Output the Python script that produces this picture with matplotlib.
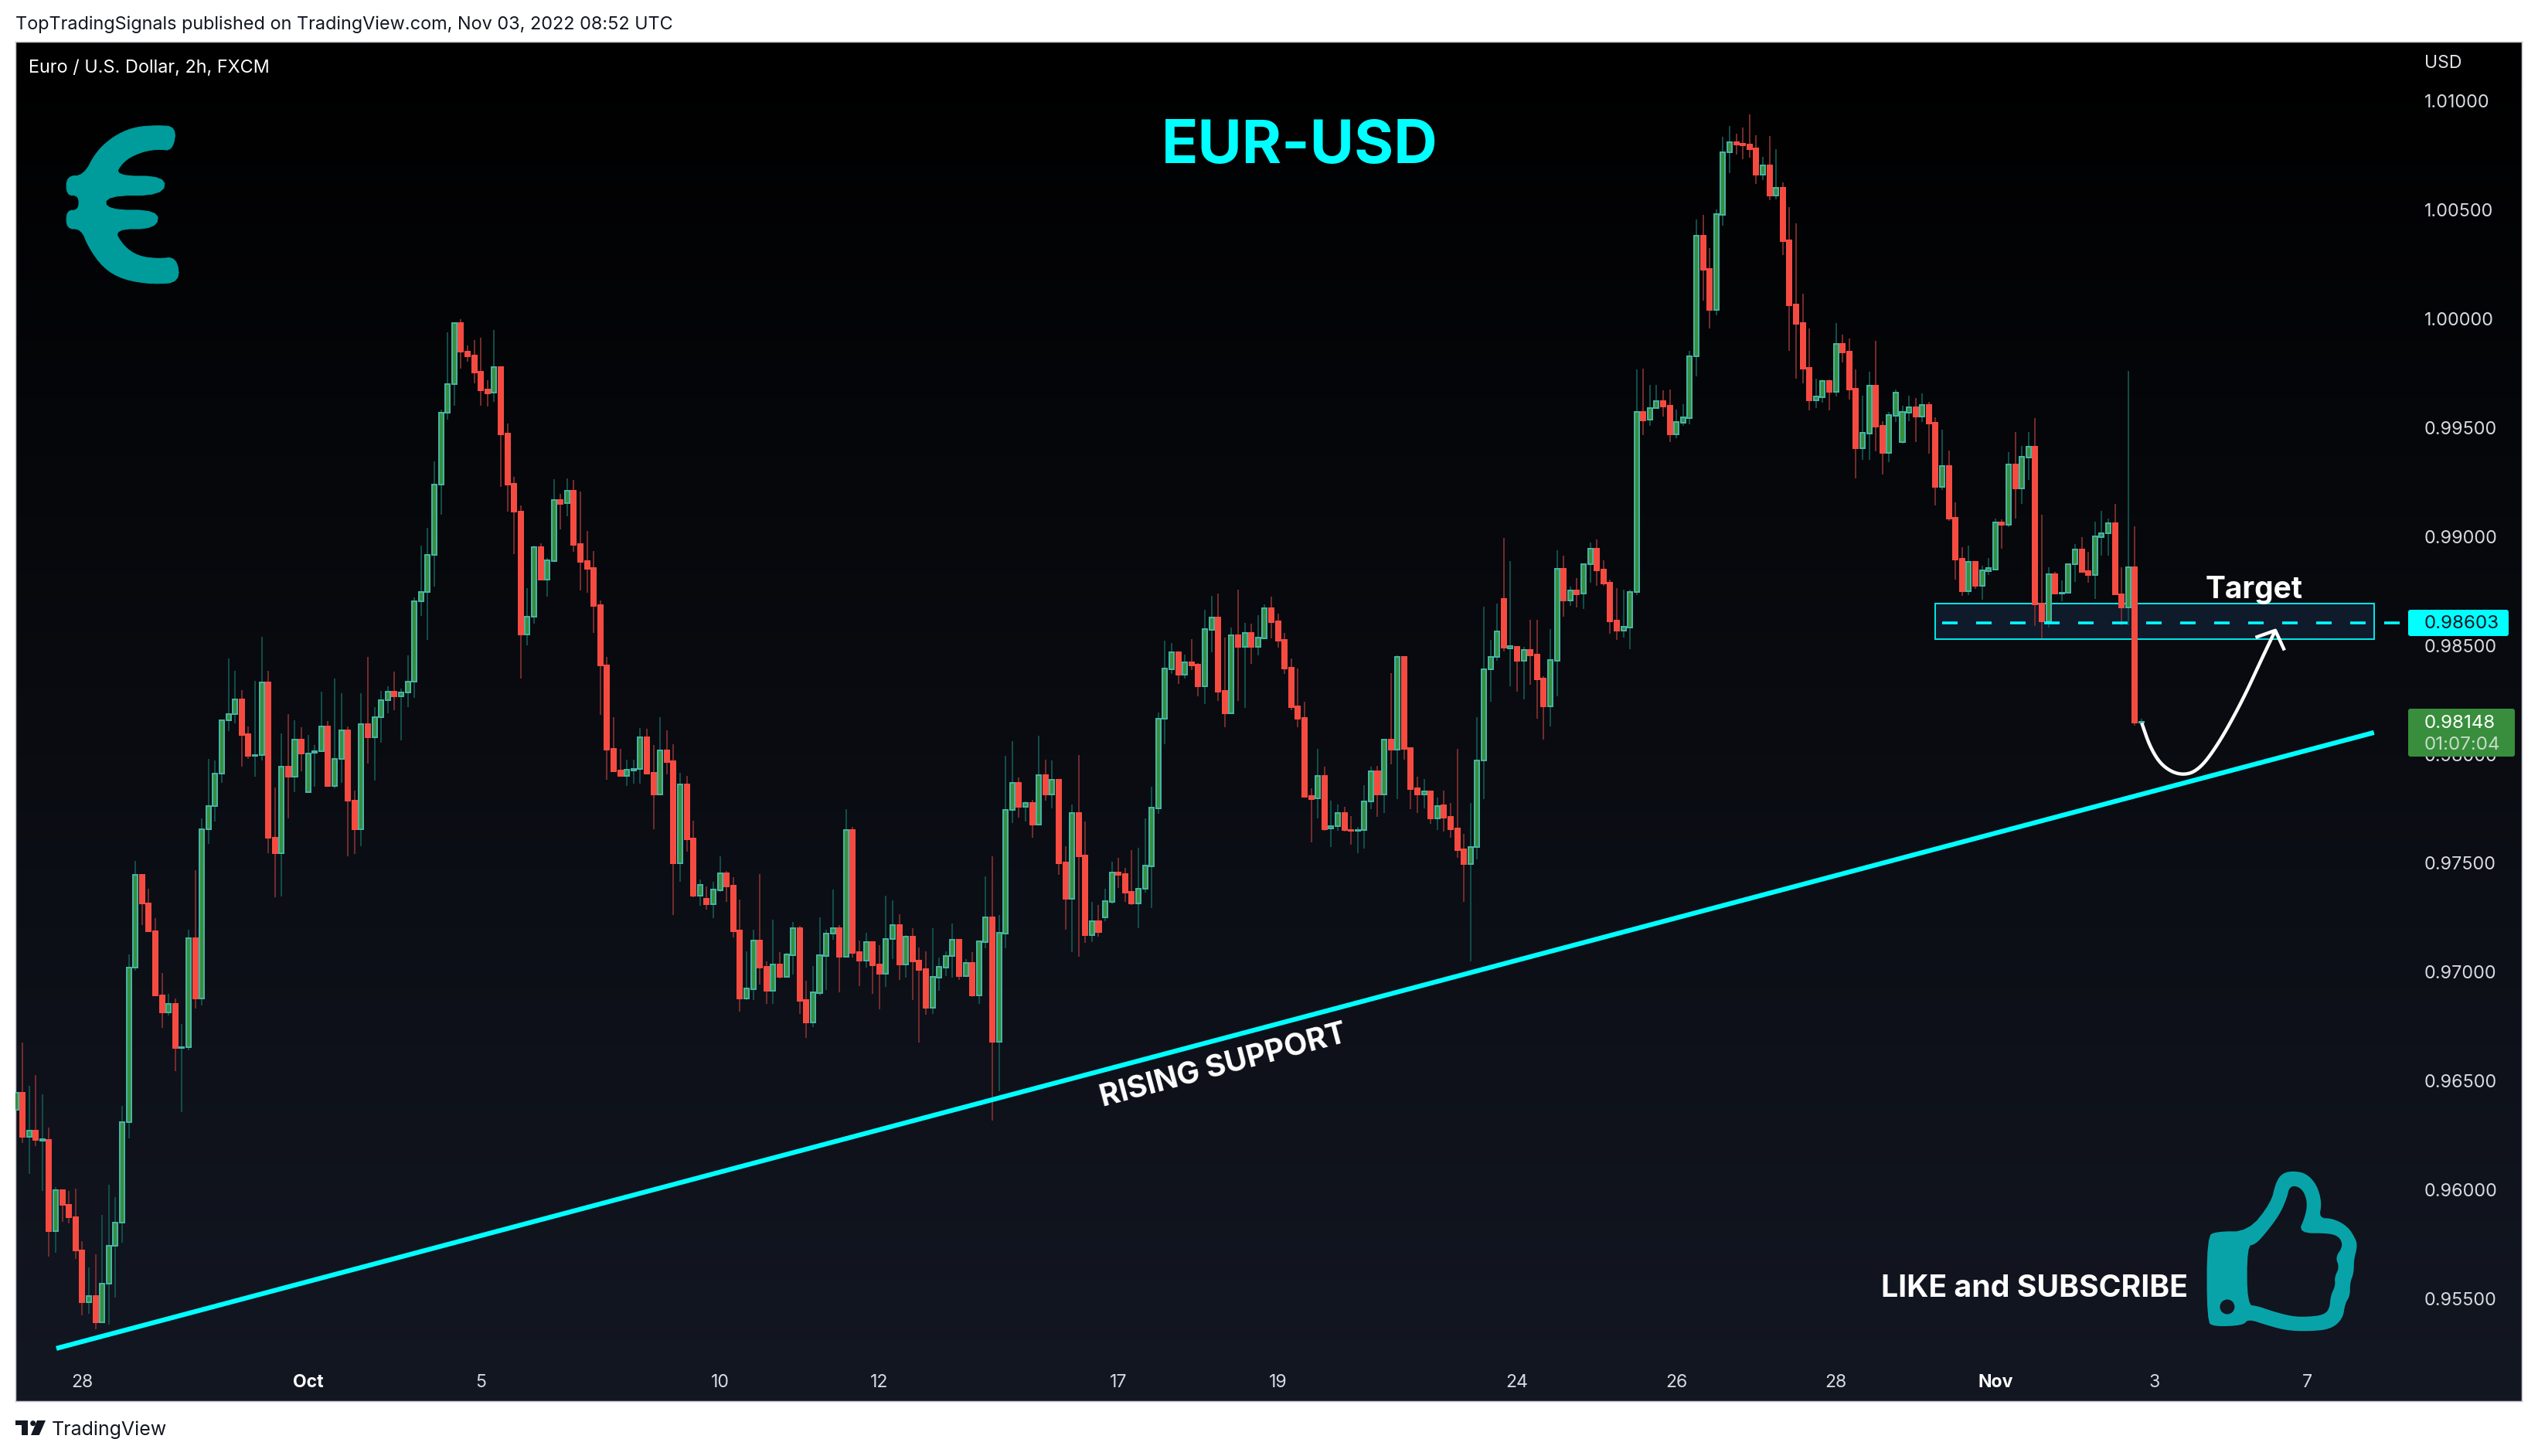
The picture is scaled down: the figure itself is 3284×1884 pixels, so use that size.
import numpy as np
import matplotlib
matplotlib.use("Agg")
import matplotlib.pyplot as plt
from matplotlib.colors import LinearSegmentedColormap
from matplotlib.patches import PathPatch, Rectangle, FancyBboxPatch, Ellipse, Circle
from matplotlib.path import Path
from matplotlib.transforms import Affine2D

plt.rcParams['font.family'] = ['Inter', 'Roboto', 'DejaVu Sans']

# prices in 1e-5 USD
opens = [
96369,96445,96243,96271,96225,96228,95809,95999,95932,95874,
95721,95485,95510,95391,95568,95742,95849,96311,97020,97447,
97316,97188,96891,96815,96855,96650,96656,97157,96879,97655,
97762,97912,98156,98184,98251,98092,97994,97997,98331,97615,
97545,97942,97897,98068,97826,98007,98013,98129,97854,97979,
98111,97787,97655,98138,98077,98172,98248,98288,98266,98285,
98334,98703,98746,98917,99238,99568,99700,99981,99849,99831,
99758,99675,99660,99779,99474,99244,99116,98551,98633,98952,
98803,98889,99167,99154,99210,98966,98887,98855,98685,98409,
98024,97927,97902,97927,97931,98078,97915,97816,98017,97967,
97499,97861,97614,97352,97336,97311,97377,97454,97397,97191,
96878,96921,97146,97023,96915,97035,96978,97078,97202,96872,
96768,96903,97073,97175,97202,97071,97653,97091,97053,97137,
97035,96992,97150,97216,97035,97161,97053,97014,96837,96975,
97022,97072,97148,96981,97042,96892,97138,97251,96681,97178,
97743,97869,97759,97777,97678,97905,97814,97883,97504,97338,
97731,97535,97171,97234,97252,97323,97458,97449,97368,97315,
97384,97486,97752,98164,98392,98469,98366,98423,98413,98313,
98572,98629,98292,98189,98547,98494,98558,98494,98533,98672,
98611,98526,98398,98221,98168,97808,97797,97900,97660,97669,
97729,97653,97647,97651,97782,97922,97814,98067,98023,98449,
98029,97844,97814,97831,97707,97766,97713,97660,97564,97496,
97573,97970,98390,98446,98714,98488,98494,98430,98480,98459,
98349,98221,98431,98852,98705,98753,98737,98872,98945,98849,
98789,98615,98569,98584,98744,99573,99537,99589,99624,99601,
99470,99524,99546,99827,100383,100231,100042,100479,100765,100812,
100806,100801,100784,100663,100706,100567,100603,100362,100067,99982,
99776,99627,99641,99716,99666,99885,99850,99679,99406,99475,
99693,99510,99386,99556,99435,99570,99595,99552,99605,99524,
99229,99324,99086,98899,98750,98885,98774,98842,98849,99066,
99053,99332,99223,99364,99413,98692,98609,98828,98737,98741,
98873,98940,98842,98825,98999,99016,99061,98735,98673,98860,98146]
highs = [
96708,96677,96476,96528,96439,96286,96014,95999,95993,96005,
95764,95644,95705,95886,96023,95965,96384,97081,97512,97447,
97383,97246,96995,96900,96879,96763,97194,97466,97707,97979,
97973,98156,98441,98383,98294,98129,98337,98541,98383,97848,
98095,98184,98156,98126,98089,98043,98288,98153,98349,98279,
98129,97832,98279,98447,98215,98291,98312,98380,98303,98456,
98722,98960,99040,99345,99584,99938,99981,100000,99877,99904,
99914,99718,99950,99779,99519,99275,99143,98765,98960,98970,
98903,99265,99197,99267,99260,99208,99027,98934,98708,98447,
98171,98024,97974,97974,98121,98117,98042,98171,98110,98047,
97915,97902,97696,97424,97392,97415,97531,97465,97435,97334,
97096,97195,97449,97048,97241,97091,97087,97229,97211,96960,
97028,97252,97195,97379,97216,97748,97666,97146,97180,97141,
97123,97352,97329,97266,97171,97202,97112,97096,97201,97066,
97094,97223,97148,97058,97091,97145,97439,97531,97262,97993,
98061,97894,97784,97790,98085,97975,97971,97883,97577,97770,
97997,97691,97322,97308,97383,97507,97526,97478,97559,97569,
97705,97852,98193,98523,98512,98469,98459,98530,98420,98665,
98728,98739,98537,98583,98757,98604,98601,98640,98689,98725,
98647,98558,98441,98395,98242,97843,98025,97944,97786,97770,
97760,97717,97667,97859,97944,97947,98072,98374,98455,98452,
98029,97898,97886,97833,97801,97833,97778,98025,97635,97778,
98170,98678,98525,98693,98995,98889,98494,98494,98618,98618,
98359,98575,98937,98914,98771,98811,98872,98974,98987,98892,
98803,98764,98756,98756,99768,99773,99698,99698,99673,99676,
99582,99609,99854,100457,100478,100326,100503,100838,100887,100852,
100880,100941,100844,100744,100841,100781,100628,100514,100440,100117,
99956,99727,99720,99722,99982,99928,99911,99768,99647,99758,
99899,99530,99573,99676,99601,99647,99638,99659,99619,99549,
99492,99395,99158,98952,98960,98885,98868,98903,99083,99080,
99389,99481,99418,99481,99544,99100,98860,98839,98798,98874,
98967,98998,98930,99068,99118,99082,99149,98860,99761,99048,98165]
lows = [
96362,96213,96072,96201,95993,95693,95712,95852,95846,95681,
95424,95430,95360,95388,95382,95504,95757,96237,97007,97215,
97188,96891,96745,96800,96546,96356,96641,96833,96848,97588,
97692,97869,98107,98141,97942,97979,97897,97970,97545,97343,
97346,97707,97826,97921,97826,97851,98013,97854,97845,97869,
97530,97542,97579,97958,97878,98052,98190,98202,98065,98218,
98260,98636,98526,98771,99101,99538,99602,99770,99804,99703,
99602,99599,99620,99229,99113,98920,98349,98499,98600,98803,
98724,98884,99034,99093,98930,98753,98742,98558,98180,97884,
97922,97900,97854,97866,97866,97913,97655,97816,97909,97261,
97415,97553,97343,97304,97286,97247,97368,97322,97159,96817,
96872,96872,96942,96853,96853,96971,96974,96989,96808,96697,
96747,96894,96917,97148,96908,97071,97066,96935,97021,96899,
96829,96933,97060,96965,96974,96872,96677,96804,96807,96914,
96981,96974,96963,96979,96887,96854,97108,96319,96452,97108,
97684,97709,97690,97617,97678,97788,97752,97448,97193,97091,
97070,97134,97138,97164,97235,97311,97387,97322,97308,97200,
97365,97295,97727,98047,98370,98324,98349,98388,98267,98231,
98469,98246,98125,98189,98246,98214,98416,98455,98533,98533,
98491,98370,98203,98125,97805,97595,97705,97650,97574,97650,
97645,97585,97547,97567,97748,97713,97730,97954,97795,97976,
97748,97730,97753,97680,97653,97645,97617,97524,97323,97049,
97519,97795,98243,98430,98472,98313,98288,98253,98321,98165,
98067,98128,98268,98633,98683,98675,98668,98789,98774,98774,
98555,98527,98537,98484,98731,99467,99510,99586,99552,99435,
99452,99510,99516,99736,100085,99956,100017,100429,100670,100755,
100735,100741,100620,100638,100546,100549,100294,99853,99727,99704,
99578,99590,99616,99581,99644,99801,99630,99269,99353,99353,
99391,99286,99343,99527,99427,99530,99435,99527,99381,99143,
99215,99072,98803,98728,98731,98760,98711,98825,98846,98945,
99045,99083,99151,99261,98590,98534,98584,98737,98703,98738,
98790,98839,98787,98713,98913,98913,98734,98593,98593,98130,98144]
closes = [
96445,96243,96271,96228,96234,95809,95999,95932,95874,95721,
95485,95510,95391,95568,95742,95849,96311,97020,97447,97316,
97188,96891,96815,96855,96650,96656,97157,96879,97655,97762,
97912,98156,98184,98251,98089,97994,97997,98331,97615,97545,
97942,97897,98068,98004,98004,98016,98129,97854,97979,98111,
97787,97655,98138,98077,98172,98248,98288,98266,98285,98334,
98703,98746,98917,99238,99568,99700,99981,99849,99828,99755,
99672,99657,99779,99470,99238,99113,98551,98633,98951,98803,
98891,99167,99152,99210,98961,98884,98853,98683,98407,98022,
97922,97902,97929,97934,98078,97913,97816,98017,97965,97499,
97861,97610,97352,97399,97311,97379,97454,97392,97186,96878,
96924,97146,97021,96915,97035,96978,97080,97202,96867,96768,
96908,97078,97177,97202,97071,97653,97087,97053,97137,97030,
96992,97152,97216,97035,97161,97048,97010,96835,96978,97023,
97073,97148,96981,97042,96892,97141,97251,96681,97179,97744,
97868,97759,97777,97678,97905,97814,97883,97500,97337,97731,
97531,97171,97234,97183,97326,97458,97447,97365,97315,97384,
97489,97754,98165,98395,98469,98366,98423,98409,98313,98576,
98629,98288,98189,98547,98494,98558,98494,98537,98672,98608,
98523,98395,98217,98164,97805,97796,97900,97657,97669,97729,
97651,97647,97653,97782,97922,97814,98066,98023,98447,98026,
97842,97814,97829,97705,97764,97710,97657,97560,97496,97573,
97970,98390,98447,98563,98490,98496,98430,98478,98455,98346,
98221,98432,98852,98705,98752,98736,98872,98943,98846,98786,
98612,98569,98586,98744,99573,99535,99590,99624,99598,99470,
99527,99549,99830,100383,100226,100042,100483,100766,100812,100801,
100798,100781,100663,100706,100567,100603,100357,100063,99979,99773,
99627,99644,99716,99666,99885,99847,99676,99406,99478,99693,
99506,99386,99559,99662,99573,99595,99552,99605,99521,99229,
99324,99083,98895,98750,98885,98774,98846,98855,99066,99053,
99332,99223,99367,99413,98690,98609,98828,98737,98741,98874,
98940,98839,98825,99000,99016,99061,98734,98673,98860,98147,98148]

time_ticks = [10, 44, 70, 106, 130, 166, 190, 226, 250, 274, 298, 322, 345]
time_labels = ['28', 'Oct', '5', '10', '12', '17', '19', '24', '26', '28', 'Nov', '3', '7']
bold_times = ['Oct', 'Nov']
price_ticks = [1.01, 1.005, 1.0, 0.995, 0.99, 0.985, 0.98, 0.975, 0.97, 0.965, 0.96, 0.955]
target_price = 0.98603
last_price = 0.98148
support_x = [6.1, 355.0]
support_y = [0.95271, 0.98100]
zone_x = [289.0, 355.0]
zone_y = [0.98529, 0.98693]

W, H = 3284, 1884
DPI = 200
fig = plt.figure(figsize=(W / DPI, H / DPI), dpi=DPI, facecolor='white')
L, R, T, B = 20, 3263, 54, 1813
ax = fig.add_axes([L / W, 1 - B / H, (R - L) / W, (B - T) / H])
XLIM = (-0.058, 377.25)
YLIM = (0.95029, 1.01273)
pix = Affine2D().scale(1, -1).translate(0, H)

# gradient background
cmap = LinearSegmentedColormap.from_list('bg', ['#000000', '#131722'])
ax.imshow(np.linspace(0, 1, 256).reshape(-1, 1), cmap=cmap, aspect='auto',
          extent=[XLIM[0], XLIM[1], YLIM[0], YLIM[1]], origin='upper', zorder=0)
ax.set_xlim(*XLIM)
ax.set_ylim(*YLIM)

x = np.arange(len(opens))
o = np.array(opens) / 1e5
h = np.array(highs) / 1e5
l = np.array(lows) / 1e5
c = np.array(closes) / 1e5
up = c >= o
PX = 1 / 2.7778  # points per pixel at 200 dpi

# target zone
ax.add_patch(Rectangle((zone_x[0], zone_y[0]), zone_x[1] - zone_x[0], zone_y[1] - zone_y[0],
                       facecolor='#0f1a2b', edgecolor='#00e5e5', lw=2 * PX, zorder=1))

ax.vlines(x[up], l[up], h[up], color='#124d48', lw=2 * PX, zorder=2)
ax.vlines(x[~up], l[~up], h[~up], color='#732b2d', lw=2 * PX, zorder=2)
ax.bar(x[up], (c - o)[up], bottom=o[up], width=0.70, color='#388e3c', edgecolor='#45b3a5', lw=2 * PX, zorder=3)
ax.bar(x[~up], (c - o)[~up], bottom=o[~up], width=0.70, color='#f64a40', edgecolor='#f44c42', lw=2 * PX, zorder=3)

# support line and target line
ax.plot(support_x, support_y, color='#00ffff', lw=6.2 * PX, solid_capstyle='butt', zorder=5)
ax.plot([290, 359], [target_price, target_price], color='#00ffff', lw=3.6 * PX,
        dashes=(20 / 3.6, 24 / 3.6), dash_capstyle='butt', zorder=4)

# axes
for s in ax.spines.values():
    s.set_color('#c4c6ce')
    s.set_linewidth(1.5 * PX)
ax.set_xticks(time_ticks)
ax.set_xticklabels(time_labels)
ax.yaxis.tick_right()
ax.set_yticks(price_ticks)
ax.set_yticklabels([f'{p:.5f}' for p in price_ticks])
ax.tick_params(axis='x', length=0, pad=-12.7, colors='#d8dae0', labelsize=8.3)
ax.tick_params(axis='y', length=0, pad=-126 * PX, colors='#d8dae0', labelsize=8.4)
for t in ax.get_xticklabels():
    if t.get_text() in bold_times:
        t.set_fontweight('bold')
        t.set_color('#ffffff')

# price labels
def box(x0, y0, x1, y1, color):
    fig.add_artist(FancyBboxPatch((x0 + 3, y0 + 3), x1 - x0 - 6, y1 - y0 - 6,
                                  boxstyle='round,pad=3,rounding_size=3', fc=color, ec='none', transform=pix, zorder=3))
box(3116, 789, 3246, 823, '#00ffff')
box(3116, 917, 3254, 979, '#388e3c')
ftxt = dict(transform=pix, ha='left', va='center', zorder=4, fontsize=8.7)
fig.text(3137, 807, f'{target_price:.5f}', color='#131722', **ftxt)
fig.text(3137, 936, f'{last_price:.5f}', color='#ffffff', **ftxt)
fig.text(3137, 964, '01:07:04', color='#c6dcc8', **ftxt)
fig.text(3137, 82, 'USD', transform=pix, ha='left', va='center', color='#e0e2e8', fontsize=8.3, zorder=4)

# annotations
ax.text(181.8, 0.96569, 'RISING SUPPORT', color='white', fontsize=14.1, fontweight='bold',
        rotation=14.9, rotation_mode='anchor', ha='center', va='center', zorder=6)
fig.text(1682, 190, 'EUR-USD', transform=pix, color='#00ffff', fontsize=28.2, fontweight='bold', ha='center', va='center', zorder=6)
fig.text(2917, 764, 'Target', transform=pix, color='white', fontsize=14, fontweight='bold', ha='center', va='center', zorder=6)
fig.text(2632, 1668, 'LIKE and SUBSCRIBE', transform=pix, color='white', fontsize=14.1, fontweight='bold', ha='center', va='center', zorder=6)
fig.text(20, 32, 'TopTradingSignals published on TradingView.com, Nov 03, 2022 08:52 UTC', transform=pix,
         color='#131722', fontsize=8.45, ha='left', va='center')
fig.text(37, 88, 'Euro / U.S. Dollar, 2h, FXCM', transform=pix, color='white', fontsize=8.45, ha='left', va='center', zorder=6)
fig.text(67, 1850, 'TradingView', transform=pix, color='#131722', fontsize=9.0, ha='left', va='center')

def chaikin(pts, n=2, closed=True):
    pts = np.asarray(pts, float)
    for _ in range(n):
        nxt = np.roll(pts, -1, axis=0) if closed else pts[1:]
        cur = pts if closed else pts[:-1]
        q = 0.75 * cur + 0.25 * nxt
        r = 0.25 * cur + 0.75 * nxt
        new = np.empty((len(q) * 2, 2))
        new[0::2] = q
        new[1::2] = r
        if not closed:
            new = np.vstack([pts[0], new, pts[-1]])
        pts = new
    return pts

def closed_path(pts):
    pts = np.vstack([pts, pts[0]])
    codes = [Path.MOVETO] + [Path.LINETO] * (len(pts) - 2) + [Path.CLOSEPOLY]
    return Path(pts, codes)

# curved arrow
arrow_z = [(568, 1228), (590, 1310), (620, 1370), (665, 1400), (710, 1385), (760, 1300), (820, 1160), (870, 1020), (905, 925)]
az = np.array(arrow_z, float)
az = np.c_[2480 + az[:, 0] / 1.95, 450 + az[:, 1] / 2.529]
fig.add_artist(PathPatch(Path(chaikin(az, 3, closed=False)), fc='none', ec='white', lw=4.4 * PX, transform=pix, zorder=6))
head = np.array([(855, 948), (905, 925), (928, 990)], float)
head = np.c_[2480 + head[:, 0] / 1.95, 450 + head[:, 1] / 2.529]
fig.add_artist(PathPatch(Path(head), fc='none', ec='white', lw=4.4 * PX, transform=pix, zorder=6, joinstyle='round'))

# euro icon
euro = [(358, 492), (315, 487), (270, 495), (230, 530), (195, 590), (170, 682), (135, 684), (135, 758), (160, 758),
        (160, 816), (135, 817), (135, 888), (165, 888), (180, 960), (210, 1040), (250, 1085), (310, 1103), (365, 1095),
        (358, 998), (320, 1005), (280, 995), (250, 955), (230, 888), (317, 888), (322, 816), (215, 816), (215, 758),
        (330, 758), (336, 684), (232, 684), (250, 625), (285, 590), (320, 578), (350, 585)]
eu = np.array(euro, float)
eu = np.c_[eu[:, 0] / 1.568, eu[:, 1] / 3]
fig.add_artist(PathPatch(closed_path(chaikin(eu, 2)), fc='#009c9c', ec='#009c9c', lw=1 * PX, transform=pix, zorder=6))

# thumb icon
outer = [(885, 450), (905, 430), (970, 430), (1017, 320), (1027, 240), (1040, 205), (1062, 195), (1090, 205),
         (1112, 250), (1122, 320), (1116, 378), (1145, 380), (1175, 410), (1192, 460), (1195, 490), (1188, 540),
         (1188, 590), (1180, 630), (1180, 680), (1170, 710), (1165, 770), (1140, 810), (1095, 818), (1050, 815),
         (1010, 795), (970, 770), (960, 795), (900, 800), (885, 780)]
inner = [(968, 487), (985, 480), (1005, 440), (1035, 365), (1050, 300), (1055, 258), (1070, 253), (1085, 275),
         (1092, 320), (1088, 370), (1073, 437), (1140, 437), (1160, 455), (1165, 490), (1150, 530), (1158, 570),
         (1148, 608), (1150, 640), (1140, 680), (1138, 730), (1125, 755), (1090, 762), (1060, 760), (1020, 740),
         (990, 720), (968, 715)]
def tz(p):
    p = np.array(p, float)
    return np.c_[2300 + p[:, 0] / 1.593, 1450 + p[:, 1] / 3]
p1 = closed_path(chaikin(tz(outer), 2))
p2 = closed_path(chaikin(tz(inner), 2)[::-1])
fig.add_artist(PathPatch(Path.make_compound_path(p1, p2), fc='#08a3a8', ec='none', transform=pix, zorder=6))
fig.add_artist(Ellipse((2300 + 927 / 1.593, 1450 + 723 / 3), 19, 19, fc='#131722', ec='none', transform=pix, zorder=7))

# TradingView logo
fig.add_artist(Rectangle((20, 1838), 16, 6, fc='#131722', ec='none', transform=pix))
fig.add_artist(Rectangle((28, 1838), 8, 19, fc='#131722', ec='none', transform=pix))
fig.add_artist(Circle((42.7, 1841.7), 3.5, fc='#131722', ec='none', transform=pix))
fig.add_artist(PathPatch(Path([(48, 1838), (59, 1838), (50.7, 1857), (40, 1857), (48, 1838)]), fc='#131722', ec='none', transform=pix))

fig.savefig('out.png', dpi=DPI, facecolor='white')
